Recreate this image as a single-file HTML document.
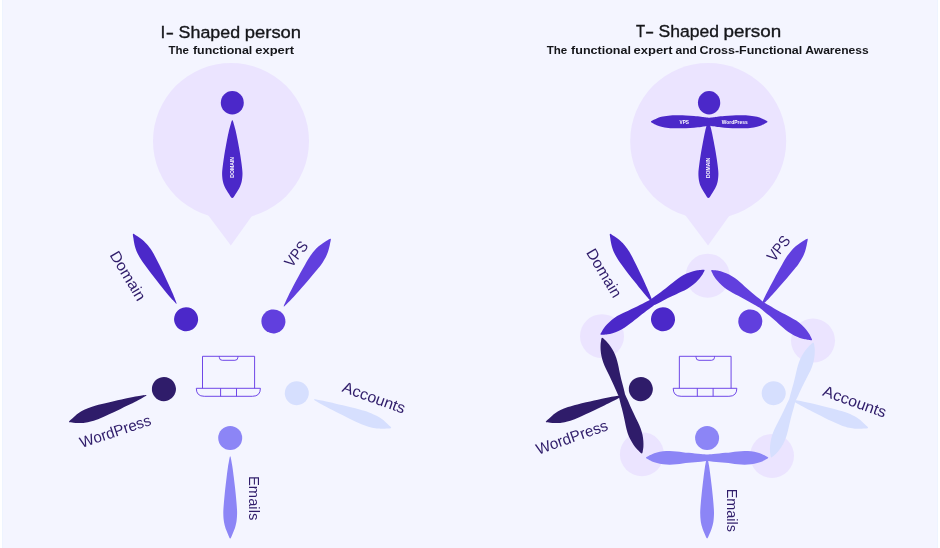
<!DOCTYPE html>
<html lang="en"><head><meta charset="utf-8"><title>I-Shaped vs T-Shaped person</title>
<style>
html,body{margin:0;padding:0;background:#f4f5ff;}
body{width:940px;height:548px;overflow:hidden;}
svg{display:block;will-change:transform;}
text{font-family:"Liberation Sans", Arial, sans-serif;}
.lbl{fill:#2f1c6a;font-size:15.4px;}
.tiny{fill:#fff;font-weight:bold;font-size:5.1px;}
.ttl{fill:#15161a;font-size:17.2px;stroke:#15161a;stroke-width:0.35px;}
.sub{fill:#15161a;font-size:10.9px;font-weight:bold;}
</style></head><body>
<svg width="940" height="548" viewBox="0 0 940 548">
<rect width="940" height="548" fill="#f4f5ff"/>
<rect x="0" y="0" width="2" height="548" fill="#ffffff"/>
<rect x="2" y="0" width="1" height="548" fill="#eef4ff"/>
<rect x="937" y="0" width="1" height="548" fill="#eef4ff"/>
<rect x="938" y="0" width="2" height="548" fill="#ffffff"/>

<text class="ttl" y="37.85"><tspan x="160.60" textLength="4.78" lengthAdjust="spacingAndGlyphs">I</tspan><tspan x="165.80" textLength="8.22" lengthAdjust="spacingAndGlyphs">-</tspan> <tspan x="178.60" textLength="61.47" lengthAdjust="spacingAndGlyphs">Shaped</tspan> <tspan x="244.80" textLength="56.29" lengthAdjust="spacingAndGlyphs">person</tspan></text>
<text class="sub" y="53.80"><tspan x="168.50" textLength="20.43" lengthAdjust="spacingAndGlyphs">The</tspan> <tspan x="192.90" textLength="59.41" lengthAdjust="spacingAndGlyphs">functional</tspan> <tspan x="255.30" textLength="38.86" lengthAdjust="spacingAndGlyphs">expert</tspan></text>
<text class="ttl" y="36.60"><tspan x="636.00" textLength="9.09" lengthAdjust="spacingAndGlyphs">T</tspan><tspan x="645.00" textLength="9.19" lengthAdjust="spacingAndGlyphs">-</tspan> <tspan x="658.60" textLength="60.49" lengthAdjust="spacingAndGlyphs">Shaped</tspan> <tspan x="723.60" textLength="57.64" lengthAdjust="spacingAndGlyphs">person</tspan></text>
<text class="sub" y="53.70"><tspan x="546.70" textLength="20.48" lengthAdjust="spacingAndGlyphs">The</tspan> <tspan x="571.10" textLength="59.81" lengthAdjust="spacingAndGlyphs">functional</tspan> <tspan x="633.50" textLength="39.00" lengthAdjust="spacingAndGlyphs">expert</tspan> <tspan x="675.50" textLength="21.40" lengthAdjust="spacingAndGlyphs">and</tspan> <tspan x="699.50" textLength="102.72" lengthAdjust="spacingAndGlyphs">Cross-Functional</tspan> <tspan x="805.30" textLength="63.41" lengthAdjust="spacingAndGlyphs">Awareness</tspan></text>
<circle cx="231" cy="141" r="78" fill="#ebe4ff"/>
<path d="M196.0 199 L230.85 245.5 L264.0 199Z" fill="#ebe4ff"/>
<g transform="translate(232.3 102.6)" fill="#4b28c9"><ellipse cy="0.2" rx="11.5" ry="11.7"/><path d="M0.51 18.20C0.88 18.84 1.26 20.39 1.73 22.06C2.21 23.73 2.77 25.66 3.37 28.24C3.96 30.81 4.74 34.67 5.30 37.50C5.86 40.33 6.27 42.65 6.73 45.22C7.19 47.79 7.63 50.24 8.06 52.94C8.48 55.64 8.93 58.47 9.28 61.43C9.64 64.39 10.17 67.87 10.20 70.70C10.23 73.53 9.89 76.23 9.49 78.42C9.08 80.60 8.38 82.28 7.75 83.82C7.12 85.36 6.48 86.39 5.71 87.68C4.95 88.97 4.11 90.25 3.16 91.54C2.21 92.83 1.05 95.40 0.00 95.40C-1.05 95.40 -2.21 92.83 -3.16 91.54C-4.11 90.25 -4.95 88.97 -5.71 87.68C-6.48 86.39 -7.12 85.36 -7.75 83.82C-8.38 82.28 -9.08 80.60 -9.49 78.42C-9.89 76.23 -10.23 73.53 -10.20 70.70C-10.17 67.87 -9.64 64.39 -9.28 61.43C-8.93 58.47 -8.48 55.64 -8.06 52.94C-7.63 50.24 -7.19 47.79 -6.73 45.22C-6.27 42.65 -5.86 40.33 -5.30 37.50C-4.74 34.67 -3.96 30.81 -3.37 28.24C-2.77 25.66 -2.21 23.73 -1.73 22.06C-1.26 20.39 -0.88 18.84 -0.51 18.20C-0.14 17.56 0.14 17.56 0.51 18.20Z"/></g>
<text class="tiny" transform="translate(233.9 167.35) rotate(-90)" text-anchor="middle" textLength="20.6" lengthAdjust="spacingAndGlyphs">DOMAIN</text>
<circle cx="708.2" cy="141" r="78" fill="#ebe4ff"/>
<path d="M673.2 199 L708.05 245.5 L741.2 199Z" fill="#ebe4ff"/>
<g transform="translate(709.2 102.3)" fill="#4b28c9"><ellipse cx="-0.1" cy="0.5" rx="11.15" ry="11.7"/><path transform="translate(-0.8 0)" d="M0.50 19.20C0.87 19.84 1.23 21.37 1.70 23.02C2.17 24.68 2.72 26.59 3.30 29.14C3.88 31.70 4.65 35.52 5.20 38.33C5.75 41.13 6.15 43.42 6.60 45.97C7.05 48.52 7.48 50.95 7.90 53.62C8.32 56.30 8.75 59.11 9.10 62.04C9.45 64.97 9.97 68.41 10.00 71.22C10.03 74.03 9.70 76.70 9.30 78.87C8.90 81.04 8.22 82.69 7.60 84.22C6.98 85.75 6.35 86.78 5.60 88.05C4.85 89.33 4.03 90.60 3.10 91.88C2.17 93.15 1.03 95.70 0.00 95.70C-1.03 95.70 -2.17 93.15 -3.10 91.88C-4.03 90.60 -4.85 89.33 -5.60 88.05C-6.35 86.78 -6.98 85.75 -7.60 84.22C-8.22 82.69 -8.90 81.04 -9.30 78.87C-9.70 76.70 -10.03 74.03 -10.00 71.22C-9.97 68.41 -9.45 64.97 -9.10 62.04C-8.75 59.11 -8.32 56.30 -7.90 53.62C-7.48 50.95 -7.05 48.52 -6.60 45.97C-6.15 43.42 -5.75 41.13 -5.20 38.33C-4.65 35.52 -3.88 31.70 -3.30 29.14C-2.72 26.59 -2.17 24.68 -1.70 23.02C-1.23 21.37 -0.87 19.84 -0.50 19.20C-0.13 18.56 0.13 18.56 0.50 19.20Z"/><path d="M0.00 15.50C0.68 15.41 2.72 15.14 4.08 14.95C5.45 14.76 6.32 14.58 8.17 14.37C10.02 14.15 12.64 13.86 15.17 13.65C17.70 13.44 20.52 13.24 23.34 13.13C26.16 13.02 29.18 12.96 32.09 13.00C35.01 13.04 38.22 13.13 40.84 13.39C43.47 13.65 45.90 14.10 47.85 14.56C49.79 15.01 51.25 15.62 52.52 16.12C53.78 16.62 54.46 16.99 55.43 17.55C56.41 18.11 58.35 18.85 58.35 19.50C58.35 20.15 56.41 20.89 55.43 21.45C54.46 22.01 53.78 22.38 52.52 22.88C51.25 23.38 49.79 23.98 47.85 24.44C45.90 24.90 43.47 25.35 40.84 25.61C38.22 25.87 35.01 25.96 32.09 26.00C29.18 26.04 26.16 25.98 23.34 25.87C20.52 25.76 17.70 25.56 15.17 25.35C12.64 25.14 10.02 24.85 8.17 24.63C6.32 24.42 5.45 24.24 4.08 24.05C2.72 23.86 0.68 23.59 0.00 23.50ZM0.00 15.50C-0.68 15.41 -2.72 15.14 -4.08 14.95C-5.45 14.76 -6.32 14.58 -8.17 14.37C-10.02 14.15 -12.64 13.86 -15.17 13.65C-17.70 13.44 -20.52 13.24 -23.34 13.13C-26.16 13.02 -29.18 12.96 -32.09 13.00C-35.01 13.04 -38.22 13.13 -40.84 13.39C-43.47 13.65 -45.90 14.10 -47.85 14.56C-49.79 15.01 -51.25 15.62 -52.52 16.12C-53.78 16.62 -54.46 16.99 -55.43 17.55C-56.41 18.11 -58.35 18.85 -58.35 19.50C-58.35 20.15 -56.41 20.89 -55.43 21.45C-54.46 22.01 -53.78 22.38 -52.52 22.88C-51.25 23.38 -49.79 23.98 -47.85 24.44C-45.90 24.90 -43.47 25.35 -40.84 25.61C-38.22 25.87 -35.01 25.96 -32.09 26.00C-29.18 26.04 -26.16 25.98 -23.34 25.87C-20.52 25.76 -17.70 25.56 -15.17 25.35C-12.64 25.14 -10.02 24.85 -8.17 24.63C-6.32 24.42 -5.45 24.24 -4.08 24.05C-2.72 23.86 -0.68 23.59 0.00 23.50Z"/></g>
<text class="tiny" transform="translate(710.25 167.9) rotate(-90)" text-anchor="middle" textLength="20.2" lengthAdjust="spacingAndGlyphs">DOMAIN</text>
<text class="tiny" x="684.3" y="123.8" text-anchor="middle" textLength="9.4" lengthAdjust="spacingAndGlyphs">VPS</text>
<text class="tiny" x="734.7" y="123.8" text-anchor="middle" textLength="25.9" lengthAdjust="spacingAndGlyphs">WordPress</text>
<g transform="translate(0.00 0) scale(1.0 1)" fill="none" stroke="#673de6" stroke-width="0.95">
<path d="M202.5 388.3V356.3H254.6V388.3"/>
<path d="M219.3 356.3V357.3Q219.3 360.3 222.3 360.3H234.9Q237.9 360.3 237.9 357.3V356.3"/>
<path d="M196.3 388.3H260.4Q260.4 396.3 252.4 396.3H204.3Q196.3 396.3 196.3 388.3Z"/>
<path d="M220.6 388.3V396.3M236.5 388.3V396.3"/>
</g>
<g transform="translate(186.1 319.2) rotate(148.2)" fill="#4b28c9"><circle r="12"/><path d="M0.35 18.80C0.60 19.48 0.85 21.12 1.17 22.89C1.50 24.66 1.87 26.71 2.28 29.43C2.68 32.16 3.21 36.25 3.59 39.25C3.97 42.25 4.24 44.70 4.55 47.43C4.86 50.16 5.16 52.75 5.45 55.61C5.74 58.47 6.04 61.47 6.28 64.61C6.52 67.74 6.88 71.42 6.90 74.42C6.92 77.42 6.69 80.29 6.42 82.60C6.14 84.92 5.67 86.69 5.24 88.33C4.82 89.97 4.38 91.06 3.86 92.42C3.35 93.78 2.78 95.15 2.14 96.51C1.50 97.87 0.71 100.60 0.00 100.60C-0.71 100.60 -1.50 97.87 -2.14 96.51C-2.78 95.15 -3.35 93.78 -3.86 92.42C-4.38 91.06 -4.82 89.97 -5.24 88.33C-5.67 86.69 -6.14 84.92 -6.42 82.60C-6.69 80.29 -6.92 77.42 -6.90 74.42C-6.88 71.42 -6.52 67.74 -6.28 64.61C-6.04 61.47 -5.74 58.47 -5.45 55.61C-5.16 52.75 -4.86 50.16 -4.55 47.43C-4.24 44.70 -3.97 42.25 -3.59 39.25C-3.21 36.25 -2.68 32.16 -2.28 29.43C-1.87 26.71 -1.50 24.66 -1.17 22.89C-0.85 21.12 -0.60 19.48 -0.35 18.80C-0.09 18.12 0.09 18.12 0.35 18.80Z"/></g>
<g transform="translate(273.4 321.4) rotate(214.7)" fill="#613fde"><circle r="12"/><path d="M0.35 18.80C0.60 19.48 0.85 21.12 1.17 22.89C1.50 24.66 1.87 26.71 2.28 29.43C2.68 32.16 3.21 36.25 3.59 39.25C3.97 42.25 4.24 44.70 4.55 47.43C4.86 50.16 5.16 52.75 5.45 55.61C5.74 58.47 6.04 61.47 6.28 64.61C6.52 67.74 6.88 71.42 6.90 74.42C6.92 77.42 6.69 80.29 6.42 82.60C6.14 84.92 5.67 86.69 5.24 88.33C4.82 89.97 4.38 91.06 3.86 92.42C3.35 93.78 2.78 95.15 2.14 96.51C1.50 97.87 0.71 100.60 0.00 100.60C-0.71 100.60 -1.50 97.87 -2.14 96.51C-2.78 95.15 -3.35 93.78 -3.86 92.42C-4.38 91.06 -4.82 89.97 -5.24 88.33C-5.67 86.69 -6.14 84.92 -6.42 82.60C-6.69 80.29 -6.92 77.42 -6.90 74.42C-6.88 71.42 -6.52 67.74 -6.28 64.61C-6.04 61.47 -5.74 58.47 -5.45 55.61C-5.16 52.75 -4.86 50.16 -4.55 47.43C-4.24 44.70 -3.97 42.25 -3.59 39.25C-3.21 36.25 -2.68 32.16 -2.28 29.43C-1.87 26.71 -1.50 24.66 -1.17 22.89C-0.85 21.12 -0.60 19.48 -0.35 18.80C-0.09 18.12 0.09 18.12 0.35 18.80Z"/></g>
<g transform="translate(163.9 389.1) rotate(70.9)" fill="#2f1c6a"><circle r="12"/><path d="M0.35 18.80C0.60 19.48 0.85 21.12 1.17 22.89C1.50 24.66 1.87 26.71 2.28 29.43C2.68 32.16 3.21 36.25 3.59 39.25C3.97 42.25 4.24 44.70 4.55 47.43C4.86 50.16 5.16 52.75 5.45 55.61C5.74 58.47 6.04 61.47 6.28 64.61C6.52 67.74 6.88 71.42 6.90 74.42C6.92 77.42 6.69 80.29 6.42 82.60C6.14 84.92 5.67 86.69 5.24 88.33C4.82 89.97 4.38 91.06 3.86 92.42C3.35 93.78 2.78 95.15 2.14 96.51C1.50 97.87 0.71 100.60 0.00 100.60C-0.71 100.60 -1.50 97.87 -2.14 96.51C-2.78 95.15 -3.35 93.78 -3.86 92.42C-4.38 91.06 -4.82 89.97 -5.24 88.33C-5.67 86.69 -6.14 84.92 -6.42 82.60C-6.69 80.29 -6.92 77.42 -6.90 74.42C-6.88 71.42 -6.52 67.74 -6.28 64.61C-6.04 61.47 -5.74 58.47 -5.45 55.61C-5.16 52.75 -4.86 50.16 -4.55 47.43C-4.24 44.70 -3.97 42.25 -3.59 39.25C-3.21 36.25 -2.68 32.16 -2.28 29.43C-1.87 26.71 -1.50 24.66 -1.17 22.89C-0.85 21.12 -0.60 19.48 -0.35 18.80C-0.09 18.12 0.09 18.12 0.35 18.80Z"/></g>
<g transform="translate(296.8 393.2) rotate(-69.8)" fill="#d6dffe"><circle r="12"/><path d="M0.35 18.80C0.60 19.48 0.85 21.12 1.17 22.89C1.50 24.66 1.87 26.71 2.28 29.43C2.68 32.16 3.21 36.25 3.59 39.25C3.97 42.25 4.24 44.70 4.55 47.43C4.86 50.16 5.16 52.75 5.45 55.61C5.74 58.47 6.04 61.47 6.28 64.61C6.52 67.74 6.88 71.42 6.90 74.42C6.92 77.42 6.69 80.29 6.42 82.60C6.14 84.92 5.67 86.69 5.24 88.33C4.82 89.97 4.38 91.06 3.86 92.42C3.35 93.78 2.78 95.15 2.14 96.51C1.50 97.87 0.71 100.60 0.00 100.60C-0.71 100.60 -1.50 97.87 -2.14 96.51C-2.78 95.15 -3.35 93.78 -3.86 92.42C-4.38 91.06 -4.82 89.97 -5.24 88.33C-5.67 86.69 -6.14 84.92 -6.42 82.60C-6.69 80.29 -6.92 77.42 -6.90 74.42C-6.88 71.42 -6.52 67.74 -6.28 64.61C-6.04 61.47 -5.74 58.47 -5.45 55.61C-5.16 52.75 -4.86 50.16 -4.55 47.43C-4.24 44.70 -3.97 42.25 -3.59 39.25C-3.21 36.25 -2.68 32.16 -2.28 29.43C-1.87 26.71 -1.50 24.66 -1.17 22.89C-0.85 21.12 -0.60 19.48 -0.35 18.80C-0.09 18.12 0.09 18.12 0.35 18.80Z"/></g>
<g transform="translate(230.2 437.9) rotate(0.0)" fill="#8c85f6"><circle r="12"/><path d="M0.35 18.80C0.60 19.48 0.85 21.12 1.17 22.89C1.50 24.66 1.87 26.71 2.28 29.43C2.68 32.16 3.21 36.25 3.59 39.25C3.97 42.25 4.24 44.70 4.55 47.43C4.86 50.16 5.16 52.75 5.45 55.61C5.74 58.47 6.04 61.47 6.28 64.61C6.52 67.74 6.88 71.42 6.90 74.42C6.92 77.42 6.69 80.29 6.42 82.60C6.14 84.92 5.67 86.69 5.24 88.33C4.82 89.97 4.38 91.06 3.86 92.42C3.35 93.78 2.78 95.15 2.14 96.51C1.50 97.87 0.71 100.60 0.00 100.60C-0.71 100.60 -1.50 97.87 -2.14 96.51C-2.78 95.15 -3.35 93.78 -3.86 92.42C-4.38 91.06 -4.82 89.97 -5.24 88.33C-5.67 86.69 -6.14 84.92 -6.42 82.60C-6.69 80.29 -6.92 77.42 -6.90 74.42C-6.88 71.42 -6.52 67.74 -6.28 64.61C-6.04 61.47 -5.74 58.47 -5.45 55.61C-5.16 52.75 -4.86 50.16 -4.55 47.43C-4.24 44.70 -3.97 42.25 -3.59 39.25C-3.21 36.25 -2.68 32.16 -2.28 29.43C-1.87 26.71 -1.50 24.66 -1.17 22.89C-0.85 21.12 -0.60 19.48 -0.35 18.80C-0.09 18.12 0.09 18.12 0.35 18.80Z"/></g>
<circle cx="707.7" cy="275.7" r="22" fill="#ebe4ff"/>
<circle cx="602.0" cy="336.2" r="22" fill="#ebe4ff"/>
<circle cx="813.0" cy="340.6" r="22" fill="#ebe4ff"/>
<circle cx="641.9" cy="454.2" r="22" fill="#ebe4ff"/>
<circle cx="772.0" cy="455.9" r="22" fill="#ebe4ff"/>
<g transform="translate(478.27 0) scale(0.993 1)" fill="none" stroke="#673de6" stroke-width="0.95">
<path d="M202.5 388.3V356.3H254.6V388.3"/>
<path d="M219.3 356.3V357.3Q219.3 360.3 222.3 360.3H234.9Q237.9 360.3 237.9 357.3V356.3"/>
<path d="M196.3 388.3H260.4Q260.4 396.3 252.4 396.3H204.3Q196.3 396.3 196.3 388.3Z"/>
<path d="M220.6 388.3V396.3M236.5 388.3V396.3"/>
</g>
<g transform="translate(773.7 393.2) rotate(-69.8)" fill="#d6dffe"><circle r="12"/><path d="M0.35 19.60C0.60 20.28 0.85 21.90 1.17 23.65C1.50 25.41 1.87 27.43 2.28 30.13C2.68 32.83 3.21 36.88 3.59 39.85C3.97 42.82 4.24 45.25 4.55 47.95C4.86 50.65 5.16 53.22 5.45 56.05C5.74 58.89 6.04 61.86 6.28 64.96C6.52 68.07 6.88 71.71 6.90 74.68C6.92 77.65 6.69 80.48 6.42 82.78C6.14 85.08 5.67 86.83 5.24 88.45C4.82 90.07 4.38 91.15 3.86 92.50C3.35 93.85 2.78 95.20 2.14 96.55C1.50 97.90 0.71 100.60 0.00 100.60C-0.71 100.60 -1.50 97.90 -2.14 96.55C-2.78 95.20 -3.35 93.85 -3.86 92.50C-4.38 91.15 -4.82 90.07 -5.24 88.45C-5.67 86.83 -6.14 85.08 -6.42 82.78C-6.69 80.48 -6.92 77.65 -6.90 74.68C-6.88 71.71 -6.52 68.07 -6.28 64.96C-6.04 61.86 -5.74 58.89 -5.45 56.05C-5.16 53.22 -4.86 50.65 -4.55 47.95C-4.24 45.25 -3.97 42.82 -3.59 39.85C-3.21 36.88 -2.68 32.83 -2.28 30.13C-1.87 27.43 -1.50 25.41 -1.17 23.65C-0.85 21.90 -0.60 20.28 -0.35 19.60C-0.09 18.93 0.09 18.93 0.35 19.60Z"/><path d="M0.00 16.60C1.02 16.50 4.08 16.18 6.12 16.00C8.16 15.83 10.20 15.73 12.24 15.55C14.28 15.38 16.32 15.18 18.36 14.97C20.40 14.75 22.44 14.49 24.48 14.24C26.52 13.99 28.46 13.69 30.60 13.48C32.74 13.28 35.09 13.01 37.33 13.00C39.58 12.99 41.92 13.14 44.06 13.41C46.21 13.69 48.35 14.17 50.18 14.66C52.02 15.14 53.75 15.78 55.08 16.31C56.41 16.84 57.12 17.23 58.14 17.83C59.16 18.43 61.20 19.21 61.20 19.90C61.20 20.59 59.16 21.37 58.14 21.97C57.12 22.57 56.41 22.96 55.08 23.49C53.75 24.02 52.02 24.66 50.18 25.14C48.35 25.63 46.21 26.11 44.06 26.39C41.92 26.66 39.58 26.81 37.33 26.80C35.09 26.79 32.74 26.52 30.60 26.32C28.46 26.11 26.52 25.81 24.48 25.56C22.44 25.31 20.40 25.05 18.36 24.83C16.32 24.62 14.28 24.42 12.24 24.25C10.20 24.07 8.16 23.97 6.12 23.80C4.08 23.62 1.02 23.30 0.00 23.20ZM0.00 16.60C-1.02 16.50 -4.08 16.18 -6.12 16.00C-8.16 15.83 -10.20 15.73 -12.24 15.55C-14.28 15.38 -16.32 15.18 -18.36 14.97C-20.40 14.75 -22.44 14.49 -24.48 14.24C-26.52 13.99 -28.46 13.69 -30.60 13.48C-32.74 13.28 -35.09 13.01 -37.33 13.00C-39.58 12.99 -41.92 13.14 -44.06 13.41C-46.21 13.69 -48.35 14.17 -50.18 14.66C-52.02 15.14 -53.75 15.78 -55.08 16.31C-56.41 16.84 -57.12 17.23 -58.14 17.83C-59.16 18.43 -61.20 19.21 -61.20 19.90C-61.20 20.59 -59.16 21.37 -58.14 21.97C-57.12 22.57 -56.41 22.96 -55.08 23.49C-53.75 24.02 -52.02 24.66 -50.18 25.14C-48.35 25.63 -46.21 26.11 -44.06 26.39C-41.92 26.66 -39.58 26.81 -37.33 26.80C-35.09 26.79 -32.74 26.52 -30.60 26.32C-28.46 26.11 -26.52 25.81 -24.48 25.56C-22.44 25.31 -20.40 25.05 -18.36 24.83C-16.32 24.62 -14.28 24.42 -12.24 24.25C-10.20 24.07 -8.16 23.97 -6.12 23.80C-4.08 23.62 -1.02 23.30 0.00 23.20Z"/></g>
<g transform="translate(707.1 437.9) rotate(0.0)" fill="#8c85f6"><circle r="12"/><path d="M0.35 19.60C0.60 20.28 0.85 21.90 1.17 23.65C1.50 25.41 1.87 27.43 2.28 30.13C2.68 32.83 3.21 36.88 3.59 39.85C3.97 42.82 4.24 45.25 4.55 47.95C4.86 50.65 5.16 53.22 5.45 56.05C5.74 58.89 6.04 61.86 6.28 64.96C6.52 68.07 6.88 71.71 6.90 74.68C6.92 77.65 6.69 80.48 6.42 82.78C6.14 85.08 5.67 86.83 5.24 88.45C4.82 90.07 4.38 91.15 3.86 92.50C3.35 93.85 2.78 95.20 2.14 96.55C1.50 97.90 0.71 100.60 0.00 100.60C-0.71 100.60 -1.50 97.90 -2.14 96.55C-2.78 95.20 -3.35 93.85 -3.86 92.50C-4.38 91.15 -4.82 90.07 -5.24 88.45C-5.67 86.83 -6.14 85.08 -6.42 82.78C-6.69 80.48 -6.92 77.65 -6.90 74.68C-6.88 71.71 -6.52 68.07 -6.28 64.96C-6.04 61.86 -5.74 58.89 -5.45 56.05C-5.16 53.22 -4.86 50.65 -4.55 47.95C-4.24 45.25 -3.97 42.82 -3.59 39.85C-3.21 36.88 -2.68 32.83 -2.28 30.13C-1.87 27.43 -1.50 25.41 -1.17 23.65C-0.85 21.90 -0.60 20.28 -0.35 19.60C-0.09 18.93 0.09 18.93 0.35 19.60Z"/><path d="M0.00 16.60C1.02 16.50 4.08 16.18 6.12 16.00C8.16 15.83 10.20 15.73 12.24 15.55C14.28 15.38 16.32 15.18 18.36 14.97C20.40 14.75 22.44 14.49 24.48 14.24C26.52 13.99 28.46 13.69 30.60 13.48C32.74 13.28 35.09 13.01 37.33 13.00C39.58 12.99 41.92 13.14 44.06 13.41C46.21 13.69 48.35 14.17 50.18 14.66C52.02 15.14 53.75 15.78 55.08 16.31C56.41 16.84 57.12 17.23 58.14 17.83C59.16 18.43 61.20 19.21 61.20 19.90C61.20 20.59 59.16 21.37 58.14 21.97C57.12 22.57 56.41 22.96 55.08 23.49C53.75 24.02 52.02 24.66 50.18 25.14C48.35 25.63 46.21 26.11 44.06 26.39C41.92 26.66 39.58 26.81 37.33 26.80C35.09 26.79 32.74 26.52 30.60 26.32C28.46 26.11 26.52 25.81 24.48 25.56C22.44 25.31 20.40 25.05 18.36 24.83C16.32 24.62 14.28 24.42 12.24 24.25C10.20 24.07 8.16 23.97 6.12 23.80C4.08 23.62 1.02 23.30 0.00 23.20ZM0.00 16.60C-1.02 16.50 -4.08 16.18 -6.12 16.00C-8.16 15.83 -10.20 15.73 -12.24 15.55C-14.28 15.38 -16.32 15.18 -18.36 14.97C-20.40 14.75 -22.44 14.49 -24.48 14.24C-26.52 13.99 -28.46 13.69 -30.60 13.48C-32.74 13.28 -35.09 13.01 -37.33 13.00C-39.58 12.99 -41.92 13.14 -44.06 13.41C-46.21 13.69 -48.35 14.17 -50.18 14.66C-52.02 15.14 -53.75 15.78 -55.08 16.31C-56.41 16.84 -57.12 17.23 -58.14 17.83C-59.16 18.43 -61.20 19.21 -61.20 19.90C-61.20 20.59 -59.16 21.37 -58.14 21.97C-57.12 22.57 -56.41 22.96 -55.08 23.49C-53.75 24.02 -52.02 24.66 -50.18 25.14C-48.35 25.63 -46.21 26.11 -44.06 26.39C-41.92 26.66 -39.58 26.81 -37.33 26.80C-35.09 26.79 -32.74 26.52 -30.60 26.32C-28.46 26.11 -26.52 25.81 -24.48 25.56C-22.44 25.31 -20.40 25.05 -18.36 24.83C-16.32 24.62 -14.28 24.42 -12.24 24.25C-10.20 24.07 -8.16 23.97 -6.12 23.80C-4.08 23.62 -1.02 23.30 0.00 23.20Z"/></g>
<g transform="translate(640.8 389.1) rotate(70.9)" fill="#2f1c6a"><circle r="12"/><path d="M0.35 19.60C0.60 20.28 0.85 21.90 1.17 23.65C1.50 25.41 1.87 27.43 2.28 30.13C2.68 32.83 3.21 36.88 3.59 39.85C3.97 42.82 4.24 45.25 4.55 47.95C4.86 50.65 5.16 53.22 5.45 56.05C5.74 58.89 6.04 61.86 6.28 64.96C6.52 68.07 6.88 71.71 6.90 74.68C6.92 77.65 6.69 80.48 6.42 82.78C6.14 85.08 5.67 86.83 5.24 88.45C4.82 90.07 4.38 91.15 3.86 92.50C3.35 93.85 2.78 95.20 2.14 96.55C1.50 97.90 0.71 100.60 0.00 100.60C-0.71 100.60 -1.50 97.90 -2.14 96.55C-2.78 95.20 -3.35 93.85 -3.86 92.50C-4.38 91.15 -4.82 90.07 -5.24 88.45C-5.67 86.83 -6.14 85.08 -6.42 82.78C-6.69 80.48 -6.92 77.65 -6.90 74.68C-6.88 71.71 -6.52 68.07 -6.28 64.96C-6.04 61.86 -5.74 58.89 -5.45 56.05C-5.16 53.22 -4.86 50.65 -4.55 47.95C-4.24 45.25 -3.97 42.82 -3.59 39.85C-3.21 36.88 -2.68 32.83 -2.28 30.13C-1.87 27.43 -1.50 25.41 -1.17 23.65C-0.85 21.90 -0.60 20.28 -0.35 19.60C-0.09 18.93 0.09 18.93 0.35 19.60Z"/><path d="M0.00 16.60C1.02 16.50 4.08 16.18 6.12 16.00C8.16 15.83 10.20 15.73 12.24 15.55C14.28 15.38 16.32 15.18 18.36 14.97C20.40 14.75 22.44 14.49 24.48 14.24C26.52 13.99 28.46 13.69 30.60 13.48C32.74 13.28 35.09 13.01 37.33 13.00C39.58 12.99 41.92 13.14 44.06 13.41C46.21 13.69 48.35 14.17 50.18 14.66C52.02 15.14 53.75 15.78 55.08 16.31C56.41 16.84 57.12 17.23 58.14 17.83C59.16 18.43 61.20 19.21 61.20 19.90C61.20 20.59 59.16 21.37 58.14 21.97C57.12 22.57 56.41 22.96 55.08 23.49C53.75 24.02 52.02 24.66 50.18 25.14C48.35 25.63 46.21 26.11 44.06 26.39C41.92 26.66 39.58 26.81 37.33 26.80C35.09 26.79 32.74 26.52 30.60 26.32C28.46 26.11 26.52 25.81 24.48 25.56C22.44 25.31 20.40 25.05 18.36 24.83C16.32 24.62 14.28 24.42 12.24 24.25C10.20 24.07 8.16 23.97 6.12 23.80C4.08 23.62 1.02 23.30 0.00 23.20ZM0.00 16.60C-1.02 16.50 -4.08 16.18 -6.12 16.00C-8.16 15.83 -10.20 15.73 -12.24 15.55C-14.28 15.38 -16.32 15.18 -18.36 14.97C-20.40 14.75 -22.44 14.49 -24.48 14.24C-26.52 13.99 -28.46 13.69 -30.60 13.48C-32.74 13.28 -35.09 13.01 -37.33 13.00C-39.58 12.99 -41.92 13.14 -44.06 13.41C-46.21 13.69 -48.35 14.17 -50.18 14.66C-52.02 15.14 -53.75 15.78 -55.08 16.31C-56.41 16.84 -57.12 17.23 -58.14 17.83C-59.16 18.43 -61.20 19.21 -61.20 19.90C-61.20 20.59 -59.16 21.37 -58.14 21.97C-57.12 22.57 -56.41 22.96 -55.08 23.49C-53.75 24.02 -52.02 24.66 -50.18 25.14C-48.35 25.63 -46.21 26.11 -44.06 26.39C-41.92 26.66 -39.58 26.81 -37.33 26.80C-35.09 26.79 -32.74 26.52 -30.60 26.32C-28.46 26.11 -26.52 25.81 -24.48 25.56C-22.44 25.31 -20.40 25.05 -18.36 24.83C-16.32 24.62 -14.28 24.42 -12.24 24.25C-10.20 24.07 -8.16 23.97 -6.12 23.80C-4.08 23.62 -1.02 23.30 0.00 23.20Z"/></g>
<g transform="translate(663.0 319.2) rotate(148.2)" fill="#4b28c9"><circle r="12"/><path d="M0.35 19.60C0.60 20.28 0.85 21.90 1.17 23.65C1.50 25.41 1.87 27.43 2.28 30.13C2.68 32.83 3.21 36.88 3.59 39.85C3.97 42.82 4.24 45.25 4.55 47.95C4.86 50.65 5.16 53.22 5.45 56.05C5.74 58.89 6.04 61.86 6.28 64.96C6.52 68.07 6.88 71.71 6.90 74.68C6.92 77.65 6.69 80.48 6.42 82.78C6.14 85.08 5.67 86.83 5.24 88.45C4.82 90.07 4.38 91.15 3.86 92.50C3.35 93.85 2.78 95.20 2.14 96.55C1.50 97.90 0.71 100.60 0.00 100.60C-0.71 100.60 -1.50 97.90 -2.14 96.55C-2.78 95.20 -3.35 93.85 -3.86 92.50C-4.38 91.15 -4.82 90.07 -5.24 88.45C-5.67 86.83 -6.14 85.08 -6.42 82.78C-6.69 80.48 -6.92 77.65 -6.90 74.68C-6.88 71.71 -6.52 68.07 -6.28 64.96C-6.04 61.86 -5.74 58.89 -5.45 56.05C-5.16 53.22 -4.86 50.65 -4.55 47.95C-4.24 45.25 -3.97 42.82 -3.59 39.85C-3.21 36.88 -2.68 32.83 -2.28 30.13C-1.87 27.43 -1.50 25.41 -1.17 23.65C-0.85 21.90 -0.60 20.28 -0.35 19.60C-0.09 18.93 0.09 18.93 0.35 19.60Z"/><path d="M0.00 16.60C1.02 16.50 4.08 16.18 6.12 16.00C8.16 15.83 10.20 15.73 12.24 15.55C14.28 15.38 16.32 15.18 18.36 14.97C20.40 14.75 22.44 14.49 24.48 14.24C26.52 13.99 28.46 13.69 30.60 13.48C32.74 13.28 35.09 13.01 37.33 13.00C39.58 12.99 41.92 13.14 44.06 13.41C46.21 13.69 48.35 14.17 50.18 14.66C52.02 15.14 53.75 15.78 55.08 16.31C56.41 16.84 57.12 17.23 58.14 17.83C59.16 18.43 61.20 19.21 61.20 19.90C61.20 20.59 59.16 21.37 58.14 21.97C57.12 22.57 56.41 22.96 55.08 23.49C53.75 24.02 52.02 24.66 50.18 25.14C48.35 25.63 46.21 26.11 44.06 26.39C41.92 26.66 39.58 26.81 37.33 26.80C35.09 26.79 32.74 26.52 30.60 26.32C28.46 26.11 26.52 25.81 24.48 25.56C22.44 25.31 20.40 25.05 18.36 24.83C16.32 24.62 14.28 24.42 12.24 24.25C10.20 24.07 8.16 23.97 6.12 23.80C4.08 23.62 1.02 23.30 0.00 23.20ZM0.00 16.60C-1.02 16.50 -4.08 16.18 -6.12 16.00C-8.16 15.83 -10.20 15.73 -12.24 15.55C-14.28 15.38 -16.32 15.18 -18.36 14.97C-20.40 14.75 -22.44 14.49 -24.48 14.24C-26.52 13.99 -28.46 13.69 -30.60 13.48C-32.74 13.28 -35.09 13.01 -37.33 13.00C-39.58 12.99 -41.92 13.14 -44.06 13.41C-46.21 13.69 -48.35 14.17 -50.18 14.66C-52.02 15.14 -53.75 15.78 -55.08 16.31C-56.41 16.84 -57.12 17.23 -58.14 17.83C-59.16 18.43 -61.20 19.21 -61.20 19.90C-61.20 20.59 -59.16 21.37 -58.14 21.97C-57.12 22.57 -56.41 22.96 -55.08 23.49C-53.75 24.02 -52.02 24.66 -50.18 25.14C-48.35 25.63 -46.21 26.11 -44.06 26.39C-41.92 26.66 -39.58 26.81 -37.33 26.80C-35.09 26.79 -32.74 26.52 -30.60 26.32C-28.46 26.11 -26.52 25.81 -24.48 25.56C-22.44 25.31 -20.40 25.05 -18.36 24.83C-16.32 24.62 -14.28 24.42 -12.24 24.25C-10.20 24.07 -8.16 23.97 -6.12 23.80C-4.08 23.62 -1.02 23.30 0.00 23.20Z"/></g>
<g transform="translate(750.3 321.4) rotate(214.7)" fill="#613fde"><circle r="12"/><path d="M0.35 19.60C0.60 20.28 0.85 21.90 1.17 23.65C1.50 25.41 1.87 27.43 2.28 30.13C2.68 32.83 3.21 36.88 3.59 39.85C3.97 42.82 4.24 45.25 4.55 47.95C4.86 50.65 5.16 53.22 5.45 56.05C5.74 58.89 6.04 61.86 6.28 64.96C6.52 68.07 6.88 71.71 6.90 74.68C6.92 77.65 6.69 80.48 6.42 82.78C6.14 85.08 5.67 86.83 5.24 88.45C4.82 90.07 4.38 91.15 3.86 92.50C3.35 93.85 2.78 95.20 2.14 96.55C1.50 97.90 0.71 100.60 0.00 100.60C-0.71 100.60 -1.50 97.90 -2.14 96.55C-2.78 95.20 -3.35 93.85 -3.86 92.50C-4.38 91.15 -4.82 90.07 -5.24 88.45C-5.67 86.83 -6.14 85.08 -6.42 82.78C-6.69 80.48 -6.92 77.65 -6.90 74.68C-6.88 71.71 -6.52 68.07 -6.28 64.96C-6.04 61.86 -5.74 58.89 -5.45 56.05C-5.16 53.22 -4.86 50.65 -4.55 47.95C-4.24 45.25 -3.97 42.82 -3.59 39.85C-3.21 36.88 -2.68 32.83 -2.28 30.13C-1.87 27.43 -1.50 25.41 -1.17 23.65C-0.85 21.90 -0.60 20.28 -0.35 19.60C-0.09 18.93 0.09 18.93 0.35 19.60Z"/><path d="M0.00 16.60C1.02 16.50 4.08 16.18 6.12 16.00C8.16 15.83 10.20 15.73 12.24 15.55C14.28 15.38 16.32 15.18 18.36 14.97C20.40 14.75 22.44 14.49 24.48 14.24C26.52 13.99 28.46 13.69 30.60 13.48C32.74 13.28 35.09 13.01 37.33 13.00C39.58 12.99 41.92 13.14 44.06 13.41C46.21 13.69 48.35 14.17 50.18 14.66C52.02 15.14 53.75 15.78 55.08 16.31C56.41 16.84 57.12 17.23 58.14 17.83C59.16 18.43 61.20 19.21 61.20 19.90C61.20 20.59 59.16 21.37 58.14 21.97C57.12 22.57 56.41 22.96 55.08 23.49C53.75 24.02 52.02 24.66 50.18 25.14C48.35 25.63 46.21 26.11 44.06 26.39C41.92 26.66 39.58 26.81 37.33 26.80C35.09 26.79 32.74 26.52 30.60 26.32C28.46 26.11 26.52 25.81 24.48 25.56C22.44 25.31 20.40 25.05 18.36 24.83C16.32 24.62 14.28 24.42 12.24 24.25C10.20 24.07 8.16 23.97 6.12 23.80C4.08 23.62 1.02 23.30 0.00 23.20ZM0.00 16.60C-1.02 16.50 -4.08 16.18 -6.12 16.00C-8.16 15.83 -10.20 15.73 -12.24 15.55C-14.28 15.38 -16.32 15.18 -18.36 14.97C-20.40 14.75 -22.44 14.49 -24.48 14.24C-26.52 13.99 -28.46 13.69 -30.60 13.48C-32.74 13.28 -35.09 13.01 -37.33 13.00C-39.58 12.99 -41.92 13.14 -44.06 13.41C-46.21 13.69 -48.35 14.17 -50.18 14.66C-52.02 15.14 -53.75 15.78 -55.08 16.31C-56.41 16.84 -57.12 17.23 -58.14 17.83C-59.16 18.43 -61.20 19.21 -61.20 19.90C-61.20 20.59 -59.16 21.37 -58.14 21.97C-57.12 22.57 -56.41 22.96 -55.08 23.49C-53.75 24.02 -52.02 24.66 -50.18 25.14C-48.35 25.63 -46.21 26.11 -44.06 26.39C-41.92 26.66 -39.58 26.81 -37.33 26.80C-35.09 26.79 -32.74 26.52 -30.60 26.32C-28.46 26.11 -26.52 25.81 -24.48 25.56C-22.44 25.31 -20.40 25.05 -18.36 24.83C-16.32 24.62 -14.28 24.42 -12.24 24.25C-10.20 24.07 -8.16 23.97 -6.12 23.80C-4.08 23.62 -1.02 23.30 0.00 23.20Z"/></g>
<text class="lbl" style="font-size:15.4px" transform="translate(109.37 254.99) rotate(59)" textLength="54.83" lengthAdjust="spacingAndGlyphs">Domain</text>
<text class="lbl" style="font-size:15.4px" transform="translate(291.87 268.15) rotate(-52)" textLength="27.89" lengthAdjust="spacingAndGlyphs">VPS</text>
<text class="lbl" style="font-size:15.4px" transform="translate(81.79 448.00) rotate(-18.4)" textLength="74.16" lengthAdjust="spacingAndGlyphs">WordPress</text>
<text class="lbl" style="font-size:15.4px" transform="translate(341.13 391.29) rotate(20)" textLength="65.92" lengthAdjust="spacingAndGlyphs">Accounts</text>
<text class="lbl" style="font-size:15.4px" transform="translate(248.70 475.94) rotate(90)" textLength="44.42" lengthAdjust="spacingAndGlyphs">Emails</text>
<text class="lbl" style="font-size:15.4px" transform="translate(585.70 252.48) rotate(59)" textLength="54.14" lengthAdjust="spacingAndGlyphs">Domain</text>
<text class="lbl" style="font-size:15.4px" transform="translate(774.19 262.50) rotate(-52)" textLength="27.52" lengthAdjust="spacingAndGlyphs">VPS</text>
<text class="lbl" style="font-size:15.4px" transform="translate(538.29 454.65) rotate(-19.5)" textLength="75.00" lengthAdjust="spacingAndGlyphs">WordPress</text>
<text class="lbl" style="font-size:15.4px" transform="translate(821.85 395.26) rotate(20)" textLength="66.09" lengthAdjust="spacingAndGlyphs">Accounts</text>
<text class="lbl" style="font-size:15.4px" transform="translate(727.00 488.64) rotate(90)" textLength="43.21" lengthAdjust="spacingAndGlyphs">Emails</text>
</svg></body></html>
